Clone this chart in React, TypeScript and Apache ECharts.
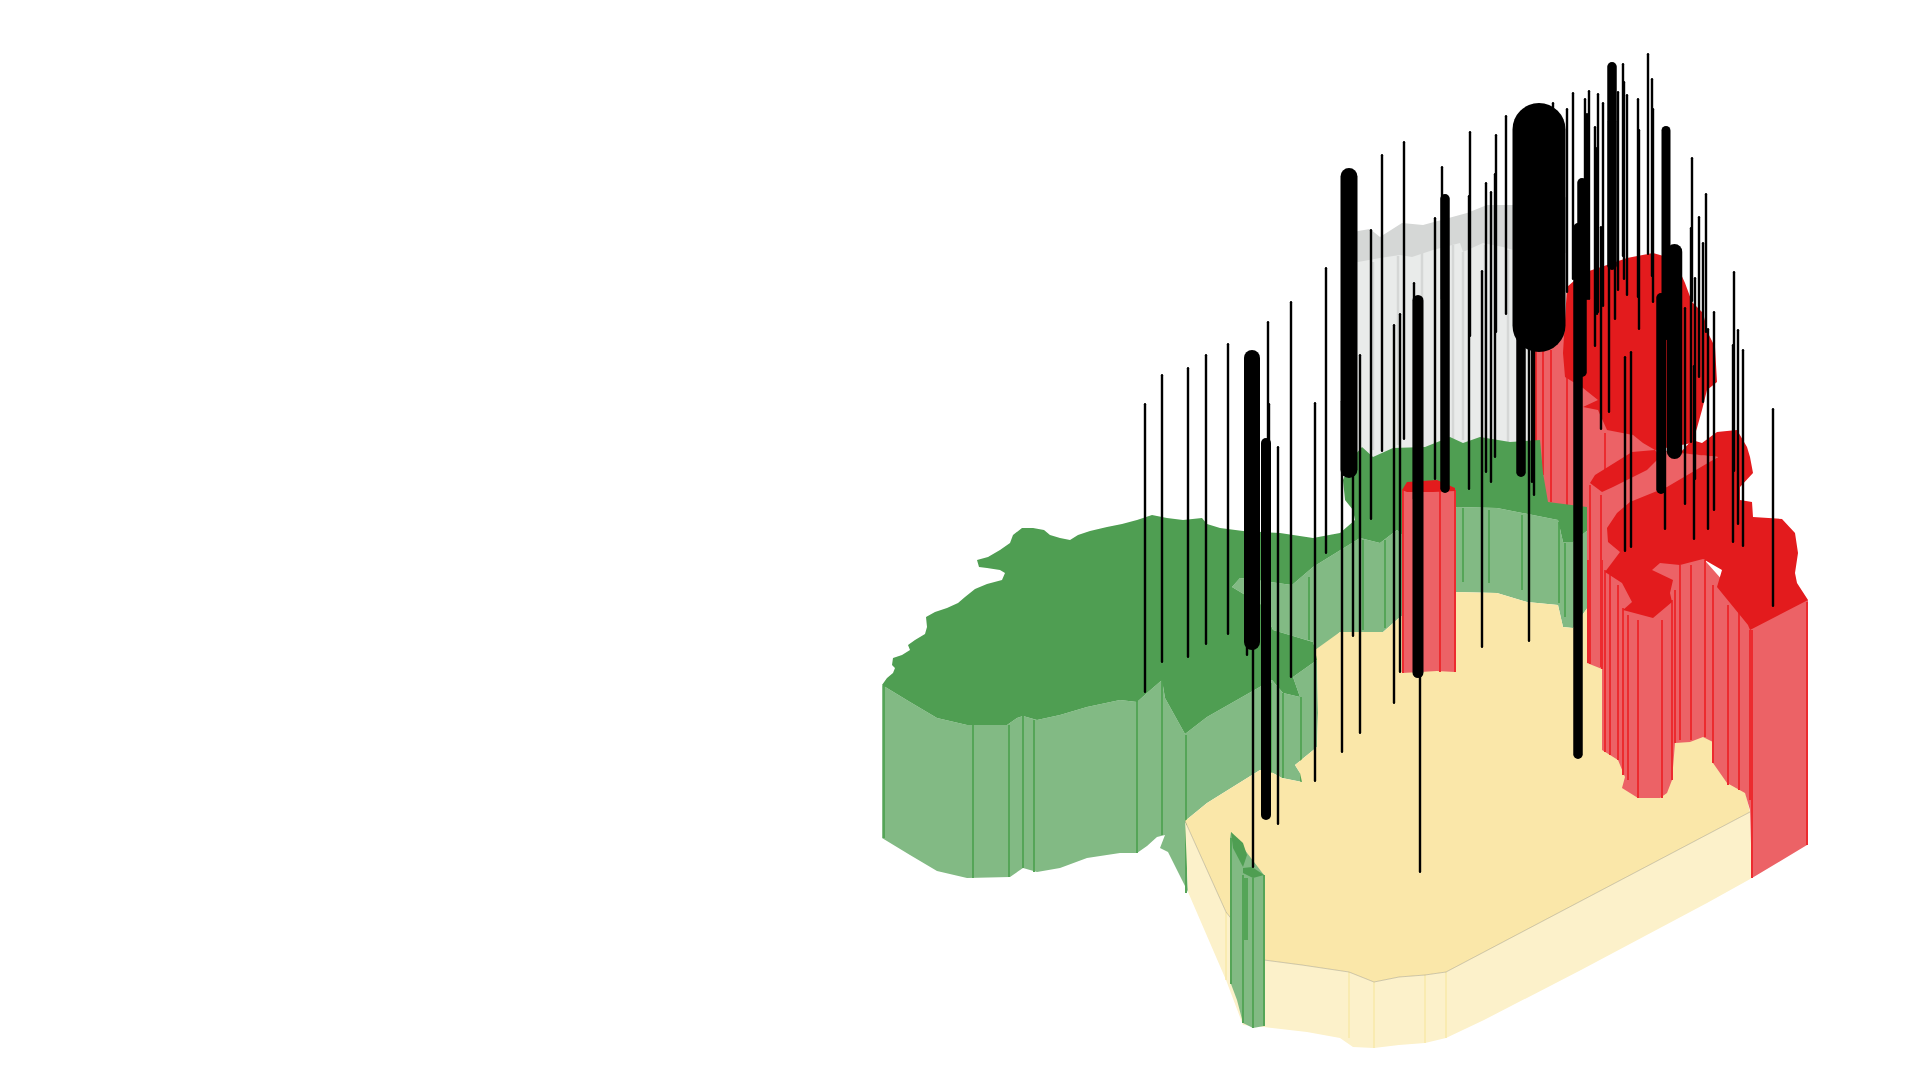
import React, { useEffect, useRef } from "react";
import * as echarts from "echarts";

type P = number[];

const greyTop: P[] = [[1345,236],[1358,231],[1370,229],[1380,237],[1402,223],[1423,225],[1467,213],[1487,205],[1513,205],[1567,197],[1567,253],[1540,253],[1513,250],[1503,247],[1483,243],[1463,252],[1460,243],[1433,250],[1412,257],[1400,255],[1380,258],[1358,262],[1345,260]];
const greySide: P[] = [[1345,255],[1358,258],[1380,256],[1400,253],[1412,255],[1433,248],[1460,241],[1463,250],[1483,241],[1503,245],[1513,248],[1540,251],[1567,250],[1567,470],[1345,470]];
const greyLines: P[] = [[1373,262,450],[1398,256,445],[1422,252,445],[1453,245,440],[1463,252,440],[1485,245,440],[1508,250,442]];

const redBackSide: P[] = [[1535,345],[1570,330],[1612,425],[1612,510],[1548,510],[1535,440]];
const redBackLines: P[] = [[1536,350,445],[1543,350,475],[1551,350,502],[1567,350,505]];

const greenWestSide: P[] = [[882,685],[910,702],[937,718],[967,725],[1007,725],[1017,718],[1023,716],[1037,720],[1060,715],[1087,707],[1120,700],[1137,702],[1147,693],[1162,680],[1165,698],[1185,734],[1207,717],[1272,680],[1283,693],[1300,697],[1293,677],[1317,660],[1318,713],[1317,747],[1295,765],[1300,773],[1302,782],[1282,778],[1273,773],[1260,770],[1207,803],[1185,821],[1188,892],[1168,852],[1160,848],[1165,835],[1157,837],[1147,846],[1137,853],[1120,853],[1087,858],[1060,868],[1037,872],[1023,868],[1010,877],[967,878],[937,871],[910,855],[882,838]];
const greenNorthSide: P[] = [[1232,587],[1240,578],[1270,582],[1292,585],[1313,567],[1360,538],[1380,543],[1397,530],[1402,535],[1457,507],[1497,508],[1558,520],[1563,542],[1573,542],[1588,530],[1588,607],[1573,628],[1563,627],[1558,605],[1527,602],[1497,593],[1455,592],[1400,617],[1383,632],[1340,632],[1317,655],[1313,642],[1273,630],[1262,605]];
const greenTop: P[] = [[882,685],[887,678],[893,673],[895,668],[892,665],[893,658],[902,655],[910,650],[908,645],[915,640],[925,634],[927,627],[926,617],[935,612],[947,608],[958,603],[965,597],[975,589],[987,584],[1002,580],[1005,573],[1000,570],[987,568],[979,567],[977,560],[988,557],[1000,550],[1010,543],[1013,535],[1022,528],[1033,528],[1044,530],[1050,535],[1060,538],[1070,540],[1078,535],[1090,531],[1107,527],[1122,524],[1137,520],[1152,515],[1167,518],[1183,520],[1202,518],[1207,524],[1220,528],[1243,531],[1280,533],[1313,538],[1340,533],[1355,520],[1353,510],[1345,500],[1343,480],[1353,457],[1362,447],[1373,457],[1393,448],[1425,447],[1450,437],[1463,443],[1480,437],[1510,442],[1540,440],[1543,473],[1548,502],[1587,507],[1588,530],[1573,542],[1563,542],[1558,520],[1497,508],[1457,507],[1402,535],[1397,530],[1380,543],[1360,538],[1313,567],[1292,585],[1270,582],[1240,578],[1232,587],[1262,605],[1273,630],[1313,642],[1317,655],[1317,660],[1293,677],[1300,697],[1283,693],[1272,680],[1207,717],[1185,734],[1165,698],[1162,680],[1147,693],[1137,702],[1120,700],[1087,707],[1060,715],[1037,720],[1023,716],[1017,718],[1007,725],[967,725],[937,718],[910,702]];
const greenLines: P[] = [[884,685,838],[973,725,878],[1009,725,877],[1023,716,868],[1034,720,872],[1137,700,853],[1162,680,835],[1186,735,893],[1271,683,773],[1283,693,778],[1301,697,782],[1309,577,640],[1363,540,630],[1385,540,628],[1463,508,582],[1489,510,583],[1522,515,590],[1559,522,603],[1565,543,617]];

const yellowSide: P[] = [[1185,821],[1226,912],[1264,960],[1302,965],[1349,972],[1374,982],[1399,977],[1425,975],[1446,972],[1750,812],[1752,878],[1707,903],[1581,970],[1484,1020],[1446,1038],[1425,1043],[1399,1045],[1374,1048],[1353,1047],[1340,1038],[1307,1032],[1264,1027],[1243,1025],[1226,980],[1188,892]];
const yellowTop: P[] = [[1185,821],[1207,803],[1260,770],[1273,773],[1282,778],[1302,782],[1300,773],[1295,765],[1317,747],[1318,713],[1317,660],[1315,650],[1340,632],[1383,632],[1400,617],[1455,592],[1497,593],[1527,602],[1558,605],[1563,627],[1573,628],[1588,607],[1700,600],[1750,812],[1446,972],[1425,975],[1399,977],[1374,982],[1349,972],[1302,965],[1264,960],[1226,912]];
const yellowEdge: P[] = [[1185,821],[1226,912],[1264,960],[1302,965],[1349,972],[1374,982],[1399,977],[1425,975],[1446,972],[1750,812]];
const yellowLines: P[] = [[1226,912,980],[1349,972,1038],[1374,982,1048],[1425,975,1043],[1446,972,1038]];

const redColumnSide: P[] = [[1402,490],[1455,490],[1455,672],[1437,671],[1420,672],[1402,673]];
const redColumnTop: P[] = [[1402,490],[1407,482],[1437,480],[1455,488],[1455,491],[1433,492],[1407,492]];
const redColumnLines: P[] = [[1403,490,673],[1440,490,672],[1455,490,672]];

const redFrontSide: P[] = [[1587,400],[1607,420],[1660,450],[1718,457],[1640,510],[1620,552],[1640,560],[1700,555],[1740,600],[1808,600],[1807,845],[1752,878],[1750,810],[1745,793],[1727,783],[1713,763],[1713,742],[1703,737],[1690,742],[1675,743],[1672,780],[1667,793],[1660,798],[1638,798],[1622,788],[1625,777],[1618,760],[1610,755],[1602,750],[1602,669],[1587,663]];
const redFrontLines: P[] = [[1588,560,663],[1590,485,664],[1601,495,667],[1605,433,480],[1602,560,669],[1605,570,752],[1610,575,755],[1618,585,760],[1623,608,775],[1628,615,780],[1638,620,798],[1662,620,798],[1672,600,780],[1675,590,743],[1680,565,740],[1691,565,740],[1705,560,737],[1713,585,763],[1728,605,785],[1739,612,790],[1750,630,800],[1752,630,878],[1807,602,845]];
const redTopNorth: P[] = [[1567,287],[1583,273],[1607,265],[1627,258],[1653,253],[1667,257],[1680,272],[1685,283],[1692,302],[1703,313],[1708,333],[1715,347],[1717,382],[1707,390],[1702,410],[1697,428],[1692,443],[1655,450],[1643,443],[1633,435],[1607,430],[1598,410],[1583,407],[1598,400],[1583,388],[1565,377],[1563,353]];
const redTopBand: P[] = [[1590,483],[1595,475],[1632,452],[1655,450],[1660,457],[1647,470],[1613,487],[1602,492]];
const redTopSouth: P[] = [[1607,528],[1617,513],[1630,502],[1667,487],[1718,457],[1680,453],[1692,440],[1702,443],[1717,432],[1737,430],[1747,447],[1750,457],[1753,473],[1740,487],[1740,500],[1752,502],[1753,517],[1782,519],[1795,533],[1798,553],[1795,573],[1797,583],[1808,600],[1750,630],[1748,625],[1717,587],[1722,570],[1703,559],[1680,565],[1660,563],[1652,570],[1673,580],[1670,593],[1672,602],[1653,618],[1623,610],[1632,602],[1622,583],[1605,572],[1620,552],[1608,542]];

const gulfSide: P[] = [[1230,838],[1231,832],[1264,875],[1264,1026],[1253,1028],[1243,1023],[1237,1000],[1231,984]];
const gulfTopA: P[] = [[1231,832],[1243,843],[1247,855],[1243,867],[1233,848]];
const gulfTopB: P[] = [[1243,868],[1252,867],[1264,875],[1253,878],[1243,873]];
const gulfLines: P[] = [[1231,838,984],[1243,875,1023],[1253,878,1028],[1264,875,1026]];
const gulfShade: P[] = [[1246,878,940]];

// [x, top, bottom]
const thinPins: P[] = [[1145,403,693],[1162,374,663],[1188,367,658],[1206,354,645],[1228,343,635],[1247,400,656],[1253,400,868],[1268,321,560],[1269,403,560],[1278,446,825],[1291,301,678],[1315,402,782],[1326,267,554],[1342,400,753],[1353,300,637],[1360,354,734],[1371,229,520],[1382,154,452],[1394,324,704],[1400,313,673],[1404,141,440],[1414,282,500],[1420,500,873],[1435,217,480],[1442,166,300],[1469,195,490],[1470,131,337],[1482,270,648],[1486,182,473],[1491,191,483],[1495,173,458],[1496,134,333],[1506,115,315],[1529,300,642],[1532,300,483],[1534,300,496],[1553,102,300],[1567,108,293],[1573,92,280],[1585,98,300],[1587,113,300],[1589,90,300],[1595,126,347],[1597,147,315],[1598,93,313],[1601,226,430],[1603,102,307],[1609,120,413],[1615,120,320],[1618,91,291],[1623,63,257],[1624,81,280],[1627,94,296],[1638,98,298],[1639,129,330],[1648,53,255],[1652,78,277],[1653,108,303],[1665,316,530],[1685,307,505],[1691,227,443],[1692,157,302],[1695,277,480],[1694,365,540],[1699,216,378],[1703,242,403],[1706,193,333],[1708,328,530],[1714,311,511],[1734,271,472],[1733,344,543],[1738,329,525],[1743,349,547],[1773,408,607],[1625,356,552],[1631,351,548]];
// [x, top, bottom]
const thickPins: P[] = [[1252,350,650],[1266,438,820],[1349,168,478],[1418,295,678],[1445,194,493],[1539,103,352],[1521,300,477],[1582,178,377],[1578,223,759],[1612,62,270],[1666,126,340],[1674.5,244,459],[1661,293,494]];
const thickWeights: number[] = [16,10,17,11,9.5,53,9.5,9.5,9.5,9.5,9,15.5,9.5];

const region = (pts: P[], fill: string) => ({
  type: "custom",
  coordinateSystem: "cartesian2d",
  silent: true,
  data: pts,
  renderItem: (params: any, api: any) => {
    if (params.dataIndex !== 0) return null;
    return { type: "polygon", shape: { points: pts.map((p) => api.coord(p)) }, style: { fill } };
  },
});

const outline = (pts: P[], stroke: string) => ({
  type: "custom",
  coordinateSystem: "cartesian2d",
  silent: true,
  data: pts,
  renderItem: (params: any, api: any) => {
    if (params.dataIndex !== 0) return null;
    return { type: "polyline", shape: { points: pts.map((p) => api.coord(p)) }, style: { fill: "none", stroke, lineWidth: 0.7 } };
  },
});

const ribs = (rows: P[], stroke: string, lineWidth: number) => ({
  type: "custom",
  coordinateSystem: "cartesian2d",
  silent: true,
  data: rows,
  renderItem: (_: any, api: any) => {
    const a = api.coord([api.value(0), api.value(1)]);
    const b = api.coord([api.value(0), api.value(2)]);
    return { type: "line", shape: { x1: a[0], y1: a[1], x2: b[0], y2: b[1] }, style: { stroke, lineWidth, lineCap: "butt" } };
  },
});

const pins = (rows: P[], weights: (i: number) => number) => ({
  type: "custom",
  coordinateSystem: "cartesian2d",
  silent: true,
  data: rows,
  renderItem: (params: any, api: any) => {
    const w = weights(params.dataIndex);
    const a = api.coord([api.value(0), api.value(1)]);
    const b = api.coord([api.value(0), api.value(2)]);
    return { type: "line", shape: { x1: a[0], y1: a[1] + w / 2, x2: b[0], y2: b[1] - w / 2 }, style: { stroke: "#000", lineWidth: w, lineCap: "round" } };
  },
});

const GREEN_TOP = "#4f9e52", GREEN_SIDE = "#82ba84", GREEN_LINE = "#55a558";
const YELLOW_TOP = "#fae7a9", YELLOW_SIDE = "#fcf1ca", YELLOW_LINE = "#f8e8a9";
const RED_TOP = "#e31b1d", RED_SIDE = "#ec6266", RED_LINE = "#ec2b2f";
const GREY_TOP = "#d5d7d6", GREY_SIDE = "#e9ebea";

export default function App() {
  const ref = useRef<HTMLDivElement>(null);
  useEffect(() => {
    const chart = echarts.init(ref.current!, undefined, { renderer: "svg" });
    chart.setOption({
      animation: false,
      backgroundColor: "#ffffff",
      grid: { left: 0, right: 0, top: 0, bottom: 0 },
      xAxis: { type: "value", min: 0, max: 1920, show: false },
      yAxis: { type: "value", min: 0, max: 1080, inverse: true, show: false },
      series: [
        region(greySide, GREY_SIDE),
        ribs(greyLines, GREY_TOP, 2.5),
        region(greyTop, GREY_TOP),
        region(redBackSide, RED_SIDE),
        ribs(redBackLines, RED_LINE, 2),
        region(greenWestSide, GREEN_SIDE),
        region(greenNorthSide, GREEN_SIDE),
        ribs(greenLines, GREEN_LINE, 2),
        region(greenTop, GREEN_TOP),
        region(yellowSide, YELLOW_SIDE),
        ribs(yellowLines, YELLOW_LINE, 1.5),
        region(yellowTop, YELLOW_TOP),
        outline(yellowEdge, "rgba(120,120,110,0.5)"),
        region(redColumnSide, RED_SIDE),
        ribs(redColumnLines, RED_LINE, 2),
        region(redColumnTop, RED_TOP),
        region(redFrontSide, RED_SIDE),
        ribs(redFrontLines, RED_LINE, 2),
        region(redTopNorth, RED_TOP),
        region(redTopBand, RED_TOP),
        region(redTopSouth, RED_TOP),
        region(gulfSide, GREEN_SIDE),
        ribs(gulfLines, GREEN_LINE, 2),
        ribs(gulfShade, GREEN_LINE, 4),
        region(gulfTopA, GREEN_TOP),
        region(gulfTopB, GREEN_TOP),
        pins(thinPins, () => 2.4),
        pins(thickPins, (i) => thickWeights[i]),
      ],
    });
    return () => chart.dispose();
  }, []);
  return <div ref={ref} style={{ position: "fixed", left: 0, top: 0, width: 1920, height: 1080 }} />;
}
